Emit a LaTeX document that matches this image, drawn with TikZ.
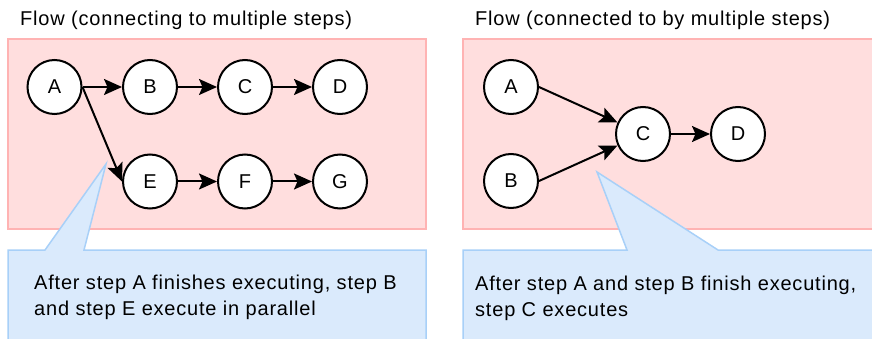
\documentclass[tikz,border=0pt]{standalone}
\usepackage{fontspec}
\setmainfont{Liberation Sans}[LetterSpace=4]
\usetikzlibrary{arrows.meta}
\definecolor{panelfill}{HTML}{FFDEDE}
\definecolor{panelline}{HTML}{FFB3B3}
\definecolor{notefill}{HTML}{DAEAFC}
\definecolor{noteline}{HTML}{A8D0F8}
\tikzset{
  stepnode/.style={circle, draw=black, fill=white, line width=2pt,
    minimum size=54pt, inner sep=0pt, font=\fontsize{20}{24}\selectfont},
  flow/.style={draw=black, line width=2pt,
    -{Stealth[length=18pt, width=16pt, inset=3.5pt]}},
  panel/.style={fill=panelfill, draw=panelline, line width=1.5pt},
  note/.style={fill=notefill, draw=noteline, line width=1.5pt},
  heading/.style={anchor=base west, inner sep=0pt, font=\fontsize{20}{24}\selectfont},
  notetext/.style={anchor=base west, inner sep=0pt, align=left,
    font=\fontsize{20}{26}\selectfont},
}
\begin{document}
\begin{tikzpicture}[x=1pt, y=-1pt]
\useasboundingbox (0,0) rectangle (872,339);
\clip (0,0) rectangle (872,339);

% Left panel: one step fanning out to two
\node[heading] (t1) at (20,26) {Flow (connecting to multiple steps)};
\path[panel] (8,39) rectangle (426,229);
\node[stepnode] (lA) at (54.5,87) {A};
\node[stepnode] (lB) at (150,87) {B};
\node[stepnode] (lC) at (245,87) {C};
\node[stepnode] (lD) at (340,87) {D};
\node[stepnode] (lE) at (150,181.5) {E};
\node[stepnode] (lF) at (245,181.5) {F};
\node[stepnode] (lG) at (340,181.5) {G};
\draw[flow] (lA.east) -- (lB.west);
\draw[flow] (lB.east) -- (lC.west);
\draw[flow] (lC.east) -- (lD.west);
\draw[flow] (lA.east) -- (lE.west);
\draw[flow] (lE.east) -- (lF.west);
\draw[flow] (lF.east) -- (lG.west);

\path[note] (8,250) -- (45,250) -- (106,164) -- (84,250) -- (426,250)
  -- (426,350) -- (8,350) -- cycle;
% the base anchor of a two-line node sits on its last line
\node[notetext] (n1) at (34,315)
  {After step A finishes executing, step B\\and step E execute in parallel};

% Right panel: two steps joining into one
\node[heading] (t2) at (475,26) {Flow (connected to by multiple steps)};
\path[panel] (463,39) rectangle (885,229);
\node[stepnode] (rA) at (511,87) {A};
\node[stepnode] (rB) at (511,181) {B};
\node[stepnode] (rC) at (643,134) {C};
\node[stepnode] (rD) at (738,134) {D};
\draw[flow] (rA.east) -- (rC);
\draw[flow] (rB.east) -- (rC);
\draw[flow] (rC.east) -- (rD.west);

\path[note] (463,250) -- (627,250) -- (597,172) -- (718,250) -- (885,250)
  -- (885,350) -- (463,350) -- cycle;
\node[notetext] (n2) at (475,316)
  {After step A and step B finish executing,\\step C executes};
\end{tikzpicture}
\end{document}
